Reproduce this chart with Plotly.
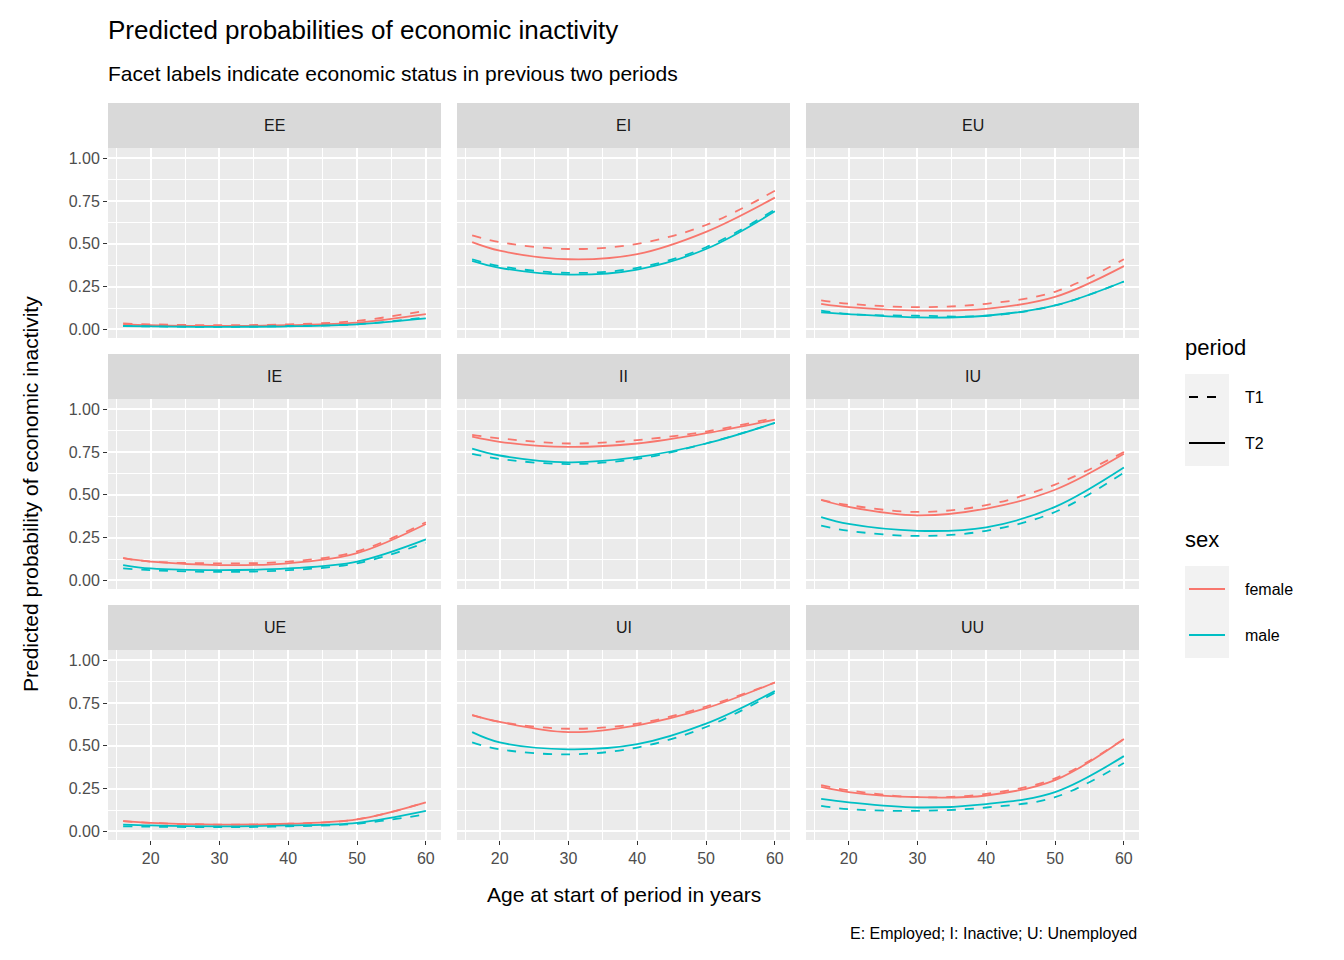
import plotly.graph_objects as go

ages = [16, 20, 30, 40, 50, 60]
facets = ["EE", "EI", "EU", "IE", "II", "IU", "UE", "UI", "UU"]

# predicted probabilities
female_t1 = {
    "EE": [.035, .03, .025, .03, .05, .11], "EI": [.55, .51, .47, .50, .61, .81],
    "EU": [.17, .15, .13, .15, .22, .41], "IE": [.13, .11, .10, .11, .17, .34],
    "II": [.85, .83, .80, .82, .87, .95], "IU": [.47, .44, .40, .44, .56, .75],
    "UE": [.06, .05, .04, .045, .07, .17], "UI": [.68, .64, .60, .63, .73, .87],
    "UU": [.27, .24, .20, .22, .31, .54],
}
female_t2 = {
    "EE": [.03, .025, .02, .025, .04, .09], "EI": [.51, .46, .41, .44, .57, .77],
    "EU": [.15, .13, .11, .12, .19, .37], "IE": [.13, .11, .09, .10, .16, .33],
    "II": [.84, .81, .78, .80, .86, .94], "IU": [.47, .43, .38, .42, .53, .74],
    "UE": [.06, .05, .04, .045, .07, .17], "UI": [.68, .64, .58, .62, .72, .87],
    "UU": [.26, .23, .20, .21, .30, .54],
}
male_t1 = {
    "EE": [.02, .018, .015, .02, .03, .07], "EI": [.41, .37, .33, .36, .48, .70],
    "EU": [.11, .09, .08, .08, .14, .28], "IE": [.07, .06, .05, .06, .10, .22],
    "II": [.74, .71, .68, .71, .80, .92], "IU": [.32, .29, .26, .29, .40, .63],
    "UE": [.03, .028, .025, .03, .045, .10], "UI": [.52, .48, .45, .49, .61, .81],
    "UU": [.15, .13, .12, .14, .20, .40],
}
male_t2 = {
    "EE": [.02, .018, .015, .018, .03, .065], "EI": [.40, .36, .32, .35, .47, .69],
    "EU": [.10, .09, .07, .08, .14, .28], "IE": [.09, .07, .06, .07, .11, .24],
    "II": [.77, .73, .69, .72, .80, .92], "IU": [.37, .33, .29, .31, .43, .66],
    "UE": [.04, .035, .03, .035, .05, .12], "UI": [.58, .52, .48, .51, .63, .82],
    "UU": [.19, .17, .14, .16, .23, .44],
}

y_ticks = [0, 0.25, 0.5, 0.75, 1.0]
y_tick_labels = ["0.00", "0.25", "0.50", "0.75", "1.00"]
x_ticks = [20, 30, 40, 50, 60]

RED, TEAL = "#F8766D", "#00BFC4"
FONT = "Liberation Sans"
W, H = 1344, 960
OFF = 8  # page body margin


def px(x):
    return (x - OFF) / W


def py(y):
    return 1 - (y - OFF) / H


cols_px = [(108, 441), (457, 790), (806, 1139)]
rows_px = [(148, 338), (399, 589), (650, 840)]  # panel top, bottom
STRIP = 45

fig = go.Figure()
layout = {}
shapes, annotations = [], []


def text(s, x, y, size, xanchor="center", color="black", angle=0):
    annotations.append(dict(text=s, xref="paper", yref="paper", x=px(x), y=py(y),
                            xanchor=xanchor, yanchor="middle", textangle=angle,
                            showarrow=False, font=dict(size=size, color=color)))


for i, name in enumerate(facets):
    r, c = divmod(i, 3)
    n = i + 1
    xs = "" if n == 1 else str(n)
    x0, x1 = cols_px[c]
    t, b = rows_px[r]
    layout["xaxis" + xs] = dict(
        domain=[px(x0), px(x1)], range=[13.8, 62.2], anchor="y" + xs,
        tickvals=x_ticks, showticklabels=(r == 2), ticks="outside" if r == 2 else "", ticklen=4,
        tickcolor="#333333", tickfont=dict(size=16, color="#4d4d4d"),
        gridcolor="white", gridwidth=1.6, zeroline=False,
        minor=dict(tickvals=[15, 25, 35, 45, 55], showgrid=True, gridcolor="white", gridwidth=0.8, ticks=""),
    )
    layout["yaxis" + xs] = dict(
        domain=[py(b), py(t)], range=[-0.05, 1.06], anchor="x" + xs,
        tickvals=y_ticks, ticktext=y_tick_labels, showticklabels=(c == 0),
        ticks="outside" if c == 0 else "", ticklen=4, tickcolor="#333333",
        tickfont=dict(size=16, color="#4d4d4d"),
        gridcolor="white", gridwidth=1.6, zeroline=False,
        minor=dict(tickvals=[0.125, 0.375, 0.625, 0.875], showgrid=True, gridcolor="white", gridwidth=0.8, ticks=""),
    )
    shapes.append(dict(type="rect", xref="paper", yref="paper", x0=px(x0), x1=px(x1),
                       y0=py(t), y1=py(b), fillcolor="#EBEBEB", line_width=0, layer="below"))
    shapes.append(dict(type="rect", xref="paper", yref="paper", x0=px(x0), x1=px(x1),
                       y0=py(t), y1=py(t - STRIP), fillcolor="#D9D9D9", line_width=0))
    text(name, (x0 + x1) / 2, t - STRIP / 2, 16, color="#1a1a1a")
    for series, color, dash in [(female_t1, RED, "dash"), (female_t2, RED, "solid"),
                                (male_t1, TEAL, "dash"), (male_t2, TEAL, "solid")]:
        fig.add_trace(go.Scatter(x=ages, y=series[name], mode="lines", xaxis="x" + xs, yaxis="y" + xs,
                                 line=dict(color=color, dash=dash, width=1.8, shape="spline"),
                                 showlegend=False, hoverinfo="skip"))

# legend drawn by hand, ggplot style
for yc, lab, color, dash in [(397, "T1", "black", "dash"), (443, "T2", "black", "solid"),
                             (589, "female", RED, "solid"), (635, "male", TEAL, "solid")]:
    shapes.append(dict(type="rect", xref="paper", yref="paper", x0=px(1185), x1=px(1229),
                       y0=py(yc - 23), y1=py(yc + 23), fillcolor="#F2F2F2", line_width=0))
    shapes.append(dict(type="line", xref="paper", yref="paper", x0=px(1189), x1=px(1225),
                       y0=py(yc), y1=py(yc), line=dict(color=color, dash=dash, width=2)))
    text(lab, 1243, yc, 16, xanchor="left")
text("period", 1183, 347, 22, xanchor="left")
text("sex", 1183, 539, 22, xanchor="left")

text("Predicted probabilities of economic inactivity", 106, 30, 26, xanchor="left")
text("Facet labels indicate economic status in previous two periods", 106, 74, 21, xanchor="left")
text("Age at start of period in years", (108 + 1139) / 2, 894, 21)
text("Predicted probability of economic inactivity", 30, 494, 21, angle=-90)
text("E: Employed; I: Inactive; U: Unemployed", 1139, 933, 16, xanchor="right")

fig.update_layout(**layout, shapes=shapes, annotations=annotations, width=W, height=H,
                  margin=dict(l=0, r=0, t=0, b=0), plot_bgcolor="rgba(0,0,0,0)",
                  paper_bgcolor="white", font=dict(family=FONT), showlegend=False)
fig.write_html("out.html")
